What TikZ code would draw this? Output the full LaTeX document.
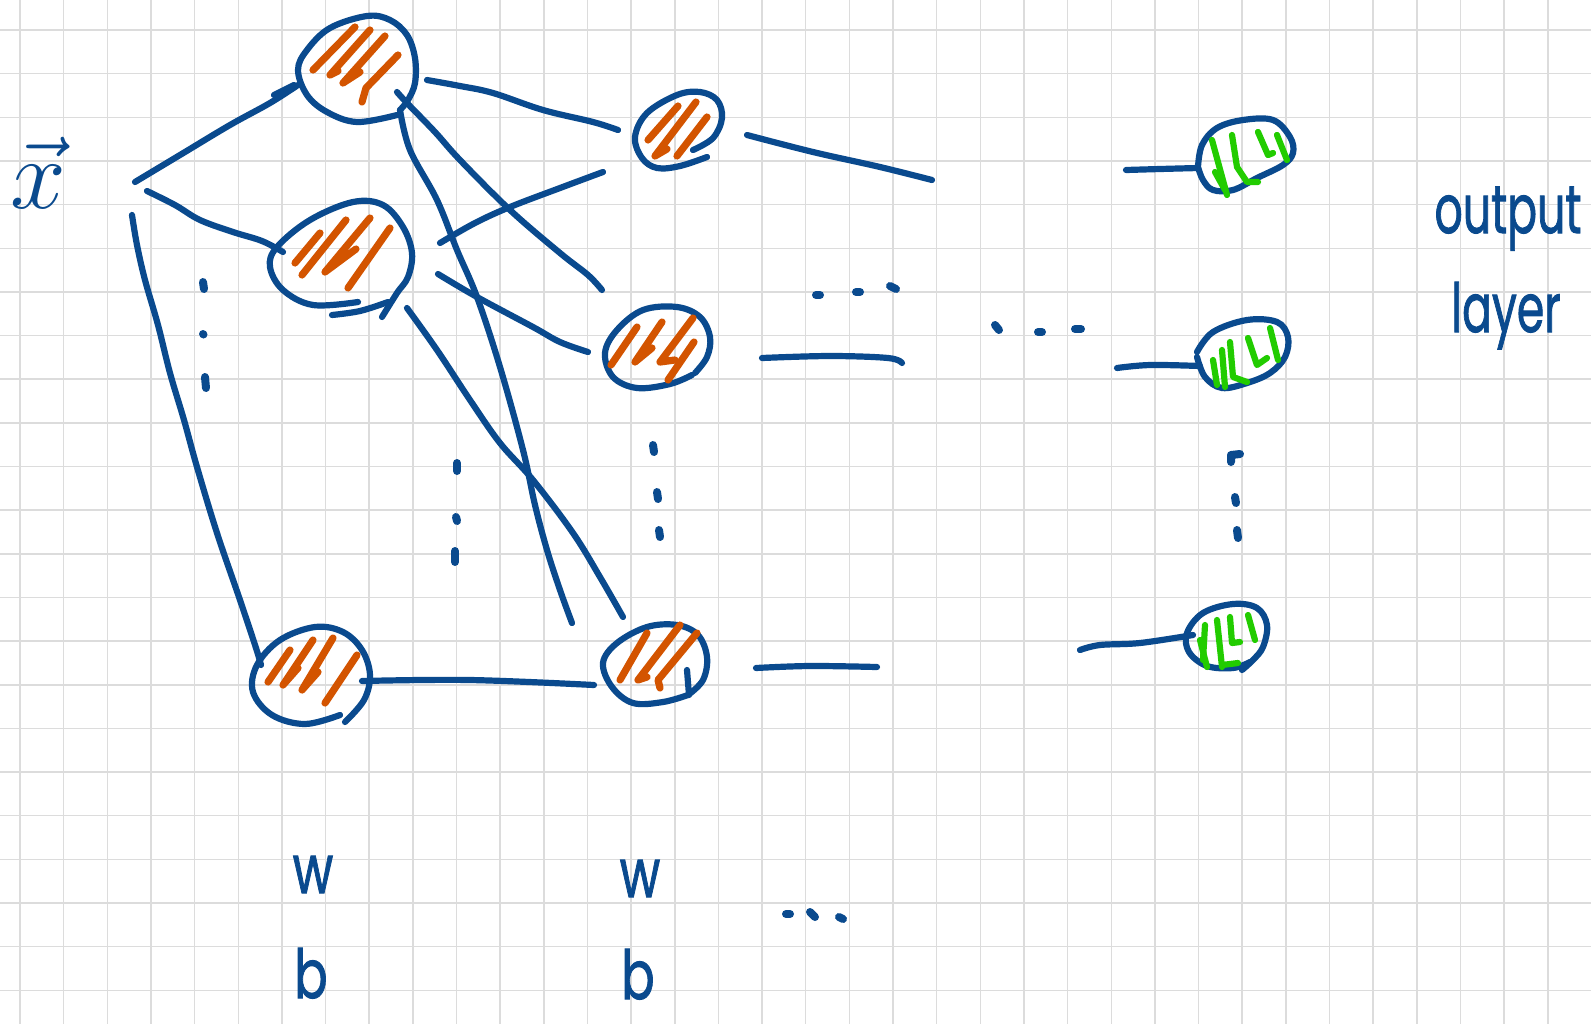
\documentclass[tikz,border=0pt]{standalone}
\usepackage{fix-cm}
\usepackage{fontspec}
\newfontfamily\handfont{Poppins}[FakeBold=1.5]
\definecolor{inkblue}{HTML}{0A4A8E}
\definecolor{inkorange}{HTML}{D35400}
\definecolor{inkgreen}{HTML}{22CC00}
\definecolor{gridgray}{HTML}{DCDCDC}
\tikzset{
  pen/.style={draw=inkblue, line width=3.1pt, line cap=round, line join=round},
  dotpen/.style={draw=inkblue, line width=4pt, line cap=round, line join=round},
  hatch/.style={draw=inkorange, line width=3.6pt, line cap=round, line join=round},
  hatchg/.style={draw=inkgreen, line width=3.1pt, line cap=round, line join=round},
  gridline/.style={draw=gridgray, line width=0.75pt},
  handtext/.style={text=inkblue, inner sep=0pt, anchor=base, font=\handfont\fontsize{26}{26}\selectfont},
  sk/.style={smooth, tension=0.6}
}
\begin{document}
\begin{tikzpicture}[x=0.5pt, y=-0.5pt]
\useasboundingbox (0,0) rectangle (1591,1024);
\fill[white] (0,0) rectangle (1591,1024);

% squared paper
\foreach \i in {0,...,36} \draw[gridline] ({20+43.65*\i},0) -- ({20+43.65*\i},1024);
\foreach \j in {0,...,22} \draw[gridline] (0,{30+43.65*\j}) -- (1591,{30+43.65*\j});

% ---------- named end points of the connections ----------
\coordinate (in1) at (135,182);  \coordinate (in2) at (147,191);  \coordinate (in3) at (132,215);
\coordinate (h1a) at (298,85);   \coordinate (h2a) at (283,252);  \coordinate (h3a) at (261,665);
\coordinate (h1o1) at (427,80);  \coordinate (h1o2) at (397,92);  \coordinate (h1o3) at (400,110);
\coordinate (h2o1) at (440,243); \coordinate (h2o2) at (438,274); \coordinate (h2o3) at (407,308);
\coordinate (h3o) at (362,681);
\coordinate (m1in) at (618,130); \coordinate (m1in2) at (603,172);
\coordinate (m2in) at (602,290); \coordinate (m2in2) at (588,352);
\coordinate (m3in) at (572,623); \coordinate (m3in2) at (623,617); \coordinate (m3in3) at (594,685);
\coordinate (m1o) at (747,135);  \coordinate (m1e) at (932,180);
\coordinate (m2o) at (762,358);  \coordinate (m2e) at (902,363);
\coordinate (m3o) at (756,668);  \coordinate (m3e) at (877,667);
\coordinate (o1s) at (1126,170); \coordinate (o1in) at (1198,168);
\coordinate (o2s) at (1117,368); \coordinate (o2in) at (1200,366);
\coordinate (o3s) at (1080,650); \coordinate (o3in) at (1193,635);

% ---------- connections ----------
\draw[pen] plot[sk] coordinates {(in1) (180,155) (230,125) (270,103) (h1a)};
\draw[pen] (274,95) -- (294,85);
\draw[pen] plot[sk] coordinates {(in2) (175,205) (200,220) (233,232) (262,241) (h2a)};
\draw[pen] plot[sk] coordinates {(in3) (137,245) (145,280) (158,325) (170,373) (184,420) (197,467) (217,533) (240,600) (256,648) (h3a)};

\draw[pen] plot[sk] coordinates {(h1o1) (460,86) (493,93) (543,110) (593,122) (m1in)};
\draw[pen] plot[sk] coordinates {(h1o2) (407,103) (435,132) (460,160) (510,210) (560,253) (588,275) (m2in)};
\draw[pen] plot[sk] coordinates {(h1o3) (410,150) (437,200) (457,250) (477,297) (500,367) (523,450) (535,505) (547,550) (560,590) (m3in)};

\draw[pen] plot[sk] coordinates {(h2o1) (475,223) (510,207) (560,188) (m1in2)};
\draw[pen] plot[sk] coordinates {(h2o2) (477,297) (533,327) (560,342) (m2in2)};
\draw[pen] plot[sk] coordinates {(h2o3) (437,350) (470,400) (500,443) (533,480) (573,533) (600,577) (m3in2)};

\draw[pen] plot[sk] coordinates {(h3o) (470,680) (m3in3)};

\draw[pen] plot[sk] coordinates {(m1o) (813,152) (880,167) (m1e)};
\draw[pen] plot[sk] coordinates {(m2o) (830,356) (888,358) (m2e)};
\draw[pen] plot[sk] coordinates {(m3o) (810,666) (m3e)};

\draw[pen] plot[sk] coordinates {(o1s) (1160,169) (o1in)};
\draw[pen] plot[sk] coordinates {(o2s) (1150,365) (o2in)};
\draw[pen] plot[sk] coordinates {(o3s) (1100,645) (1140,643) (o3in)};

% ---------- first hidden layer ----------
\draw[pen] plot[sk] coordinates {(397,115) (357,122) (327,112) (307,95) (298,70) (307,50) (330,28) (367,16) (390,20) (407,35) (415,58) (415,83) (408,100) (400,110)};
\draw[hatch] (355,27) -- (313,70);
\draw[hatch] (370,30) -- (330,75) -- (338,71);
\draw[hatch] (385,36) -- (343,83) -- (360,72);
\draw[hatch] (398,55) -- (366,88) -- (362,102);

\draw[pen] plot[sk] coordinates {(358,302) (313,305) (283,290) (270,267) (277,247) (310,220) (353,202) (383,205) (403,227) (412,253) (408,277) (397,293) (382,317)};
\draw[pen] plot[sk] coordinates {(332,315) (360,311) (388,302)};
\draw[hatch] (320,233) -- (295,263);
\draw[hatch] (346,220) -- (302,275);
\draw[hatch] (370,218) -- (325,272) -- (356,249);
\draw[hatch] (390,228) -- (348,288);

\draw[pen] plot[sk] coordinates {(340,715) (305,724) (272,715) (253,692) (257,665) (280,640) (315,627) (343,632) (362,650) (370,675) (364,700) (345,722)};
\draw[hatch] (290,650) -- (268,682);
\draw[hatch] (313,640) -- (283,685) -- (298,668);
\draw[hatch] (333,638) -- (302,690) -- (318,672);
\draw[hatch] (357,655) -- (325,703);

% ---------- second hidden layer ----------
\draw[pen] plot[sk] coordinates {(693,150) (713,138) (722,118) (717,100) (700,92) (677,95) (647,113) (635,137) (642,158) (657,168) (680,166) (707,157)};
\draw[hatch] (678,106) -- (648,140);
\draw[hatch] (696,102) -- (655,156) -- (667,149);
\draw[hatch] (707,117) -- (677,156);

\draw[pen] plot[sk] coordinates {(695,373) (707,357) (710,337) (700,317) (677,307) (643,310) (617,330) (605,353) (613,377) (637,388) (670,384) (692,375)};
\draw[hatch] (637,327) -- (611,365);
\draw[hatch] (662,322) -- (635,362) -- (652,348);
\draw[hatch] (693,318) -- (660,362) -- (675,360);
\draw[hatch] (694,342) -- (668,380);

\draw[pen] plot[sk] coordinates {(688,695) (703,680) (707,657) (698,635) (677,625) (647,627) (617,643) (603,663) (612,687) (633,703) (663,702) (688,695)};
\draw[pen] (687,670) -- (689,695);
\draw[hatch] (647,633) -- (620,680);
\draw[hatch] (680,625) -- (638,680) -- (647,677);
\draw[hatch] (697,633) -- (658,680) -- (660,688);

% ---------- output layer ----------
\draw[pen] plot[sk] coordinates {(1198,167) (1202,145) (1217,128) (1243,120) (1273,120) (1290,137) (1293,153) (1283,165) (1257,178) (1233,190) (1213,190) (1203,180) (1198,167)};
\draw[hatchg] (1212,140) -- (1227,195);
\draw[hatchg] (1215,172) -- (1225,190);
\draw[hatchg] (1232,135) -- (1237,167) -- (1247,182) -- (1258,182);
\draw[hatchg] (1258,132) -- (1268,155) -- (1273,153);
\draw[hatchg] (1277,135) -- (1287,160);

\draw[pen] plot[sk] coordinates {(1197,352) (1213,332) (1247,320) (1277,322) (1288,337) (1285,357) (1270,373) (1247,383) (1222,388) (1205,377) (1197,357)};
\draw[hatchg] (1213,360) -- (1217,385);
\draw[hatchg] (1222,350) -- (1225,387);
\draw[hatchg] (1230,342) -- (1233,377) -- (1247,382);
\draw[hatchg] (1248,338) -- (1257,365) -- (1267,358);
\draw[hatchg] (1270,328) -- (1278,360);

\draw[pen] plot[sk] coordinates {(1242,670) (1253,660) (1263,647) (1267,625) (1257,608) (1233,604) (1203,613) (1187,633) (1189,652) (1207,666) (1233,668) (1250,662)};
\draw[hatchg] (1205,625) -- (1203,660);
\draw[hatchg] (1200,640) -- (1207,667);
\draw[hatchg] (1217,620) -- (1222,667);
\draw[hatchg] (1230,617) -- (1232,643) -- (1240,642);
\draw[hatchg] (1248,615) -- (1255,640);
\draw[hatchg] (1222,665) -- (1238,663);

% ---------- ellipsis marks ----------
\draw[dotpen] (203,282) -- (204,289);
\draw[dotpen] (203,334) -- (203.5,334.5);
\draw[dotpen] (205,377) -- (206,388);
\draw[dotpen] (457,463) -- (457,471);
\draw[dotpen] (456,517) -- (457,521);
\draw[dotpen] (455,551) -- (455,562);
\draw[dotpen] (653,445) -- (654,452);
\draw[dotpen] (657,492) -- (658,499);
\draw[dotpen] (659,530) -- (660,537);
\draw[dotpen] (1240,454) -- (1231,455) -- (1231,462);
\draw[dotpen] (1235,497) -- (1236,503);
\draw[dotpen] (1237,530) -- (1238,538);
\draw[dotpen] (816,295) -- (820,295);
\draw[dotpen] (856,292) -- (860,292);
\draw[dotpen] (890,286) -- (896,289);
\draw[dotpen] (995,325) -- (999,330);
\draw[dotpen] (1038,332) -- (1042,332);
\draw[dotpen] (1075,329) -- (1081,329);
\draw[dotpen] (786,914) -- (790,914);
\draw[dotpen] (810,912) -- (815,917);
\draw[dotpen] (839,917) -- (843,919);

% ---------- labels ----------
\node[handtext, font=\fontsize{50}{50}\selectfont] (xlab) at (38,208) {$\vec{x}$};
\node[handtext] (outlab) at (1508,233) {\scalebox{0.85}[1.3]{output}};
\node[handtext] (laylab) at (1506,332) {\scalebox{0.85}[1.3]{layer}};
\node[handtext] (w1) at (313,893) {\scalebox{0.95}[1.3]{w}};
\node[handtext] (w2) at (640,897) {\scalebox{0.95}[1.3]{w}};
\node[handtext] (b1) at (311,998) {\scalebox{0.95}[1.3]{b}};
\node[handtext] (b2) at (638,999) {\scalebox{0.95}[1.3]{b}};
\end{tikzpicture}
\end{document}
